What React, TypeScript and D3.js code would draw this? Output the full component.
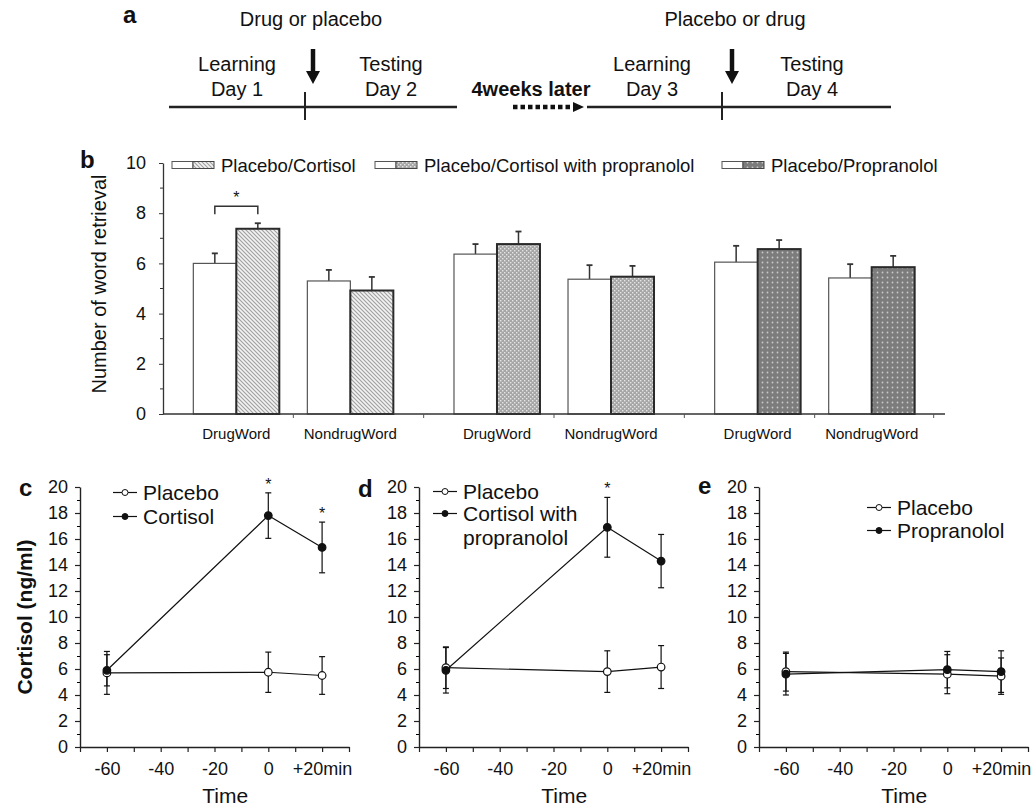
import React, { useEffect, useRef } from "react";
import * as d3 from "d3";

const FONT = "'Liberation Sans', Arial, Helvetica, sans-serif";

// panel b: word retrieval, index = cluster * 2 + word type
const clusterNames = ["Placebo/Cortisol", "Placebo/Cortisol with propranolol", "Placebo/Propranolol"];
const clusterPatterns = ["hatch", "stipple", "darkdot"];
const wordTypes = ["DrugWord", "NondrugWord"];
const placeboWords = [6.0, 5.3, 6.37, 5.37, 6.05, 5.42];
const placeboWordsErr = [0.4, 0.44, 0.4, 0.56, 0.65, 0.55];
const drugWords = [7.38, 4.92, 6.77, 5.47, 6.57, 5.85];
const drugWordsErr = [0.22, 0.54, 0.5, 0.43, 0.36, 0.45];
const yTicksB = [0, 2, 4, 6, 8, 10];
const yMinorB = [1, 3, 5, 7, 9];

// panels c-e: cortisol over time
const times = [-60, 0, 20];
const timeTicks = [-70, -60, -50, -40, -30, -20, -10, 0, 10, 20, 30];
const timeLabels: Record<number, string> = { "-60": "-60", "-40": "-40", "-20": "-20", "0": "0", "20": "+20min" };
const cortTicks = [0, 2, 4, 6, 8, 10, 12, 14, 16, 18, 20];
const cortMinor = [1, 3, 5, 7, 9, 11, 13, 15, 17, 19];

const cPlacebo = [5.7, 5.75, 5.5];
const cPlaceboErr = [1.65, 1.55, 1.45];
const cCortisol = [5.9, 17.8, 15.35];
const cCortisolErr = [1.2, 1.75, 1.95];
const dPlacebo = [6.1, 5.8, 6.15];
const dPlaceboErr = [1.6, 1.6, 1.65];
const dCortProp = [5.9, 16.9, 14.3];
const dCortPropErr = [1.75, 2.3, 2.05];
const ePlacebo = [5.8, 5.6, 5.45];
const ePlaceboErr = [1.5, 1.5, 1.4];
const eProp = [5.6, 5.95, 5.8];
const ePropErr = [1.6, 1.4, 1.6];

function txt(g: any, x: number, y: number, s: string, size: number, opts: any = {}) {
  return g.append("text")
    .attr("x", x).attr("y", y)
    .attr("font-family", FONT)
    .attr("font-size", size)
    .attr("font-weight", opts.bold ? "bold" : "normal")
    .attr("text-anchor", opts.anchor || "start")
    .attr("fill", "#111")
    .text(s);
}

function drawLinePanel(svg: any, ox: number, letter: string, letterY: number,
  open: number[], openErr: number[], filled: number[], filledErr: number[],
  legend: { lx: number; tx: number; rows: number[]; labels: string[] }, stars: number[]) {
  const g = svg.append("g");
  const x = d3.scaleLinear().domain([-70, 30]).range([ox, ox + 269]);
  const y = d3.scaleLinear().domain([0, 20]).range([747, 487]);

  const yAxis = g.append("g").attr("transform", `translate(${ox},0)`)
    .call(d3.axisLeft(y).tickValues(cortTicks).tickSize(5).tickPadding(7).tickSizeOuter(0));
  g.append("g").attr("transform", `translate(${ox},0)`)
    .call(d3.axisLeft(y).tickValues(cortMinor).tickSize(3).tickFormat(() => "").tickSizeOuter(0))
    .select(".domain").remove();
  const xAxis = g.append("g").attr("transform", "translate(0,747)")
    .call(d3.axisBottom(x).tickValues(timeTicks).tickSize(5).tickSizeOuter(0)
      .tickFormat((d: any) => timeLabels[d] || ""));
  [yAxis, xAxis].forEach((a: any) => {
    a.select(".domain").attr("stroke", "#222").attr("stroke-width", 1.4);
    a.selectAll(".tick line").attr("stroke", "#222").attr("stroke-width", 1.2);
    a.selectAll("text").attr("font-family", FONT).attr("font-size", 18).attr("fill", "#111");
  });
  xAxis.selectAll("text").attr("y", 28).attr("dy", 0);

  txt(g, x(-16), 803, "Time", 21, { anchor: "middle" });
  txt(g, ox - 61, letterY, letter, 24, { bold: true });

  const line = d3.line<number>().x((_, i) => x(times[i])).y(d => y(d));
  const series = [
    { v: open, e: openErr, fill: "#fff" },
    { v: filled, e: filledErr, fill: "#111" },
  ];
  series.forEach(s => {
    g.append("path").attr("d", line(s.v)).attr("fill", "none").attr("stroke", "#111").attr("stroke-width", 1.2);
  });
  series.forEach(s => {
    s.v.forEach((v, i) => {
      const cx = x(times[i]);
      g.append("line").attr("x1", cx).attr("x2", cx).attr("y1", y(v - s.e[i])).attr("y2", y(v + s.e[i]))
        .attr("stroke", "#111").attr("stroke-width", 1.2);
      [v - s.e[i], v + s.e[i]].forEach(w => {
        g.append("line").attr("x1", cx - 3).attr("x2", cx + 3).attr("y1", y(w)).attr("y2", y(w))
          .attr("stroke", "#111").attr("stroke-width", 1.2);
      });
    });
  });
  series.forEach(s => {
    s.v.forEach((v, i) => {
      g.append("circle").attr("cx", x(times[i])).attr("cy", y(v)).attr("r", 3.8)
        .attr("fill", s.fill).attr("stroke", "#111").attr("stroke-width", 1.2);
    });
  });
  stars.forEach(t => {
    const i = times.indexOf(t);
    txt(g, x(t), y(filled[i] + filledErr[i]) - 3, "*", 16, { anchor: "middle" });
  });

  // legend
  legend.labels.forEach((lab, i) => {
    const by = legend.rows[i];
    txt(g, legend.tx, by, lab, 21);
    if (i < 2) {
      const ly = by - 7;
      g.append("line").attr("x1", legend.lx).attr("x2", legend.lx + 24).attr("y1", ly).attr("y2", ly)
        .attr("stroke", "#111").attr("stroke-width", 1.2);
      g.append("circle").attr("cx", legend.lx + 12).attr("cy", ly).attr("r", 3)
        .attr("fill", i === 0 ? "#fff" : "#111").attr("stroke", "#111").attr("stroke-width", 1);
    }
  });
  return g;
}

export default function App() {
  const ref = useRef<SVGSVGElement>(null);

  useEffect(() => {
    const svg = d3.select(ref.current);
    svg.selectAll("*").remove();

    // patterns
    const defs = svg.append("defs");
    const hatch = defs.append("pattern").attr("id", "hatch").attr("patternUnits", "userSpaceOnUse")
      .attr("width", 4).attr("height", 4);
    hatch.append("rect").attr("width", 4).attr("height", 4).attr("fill", "#f2f2f2");
    hatch.append("path").attr("d", "M-1,-1L5,5M-1,3L1,5M3,-1L5,1").attr("stroke", "#a0a0a0").attr("stroke-width", 1.1);
    const stip = defs.append("pattern").attr("id", "stipple").attr("patternUnits", "userSpaceOnUse")
      .attr("width", 4).attr("height", 4);
    stip.append("rect").attr("width", 4).attr("height", 4).attr("fill", "#a6a6a6");
    stip.append("rect").attr("x", 0).attr("y", 0).attr("width", 1.4).attr("height", 1.4).attr("fill", "#e4e4e4");
    stip.append("rect").attr("x", 2).attr("y", 2).attr("width", 1.4).attr("height", 1.4).attr("fill", "#e4e4e4");
    const dd = defs.append("pattern").attr("id", "darkdot").attr("patternUnits", "userSpaceOnUse")
      .attr("width", 5).attr("height", 5);
    dd.append("rect").attr("width", 5).attr("height", 5).attr("fill", "#7c7c7c");
    dd.append("circle").attr("cx", 2.5).attr("cy", 2.5).attr("r", 0.9).attr("fill", "#c9c9c9");

    // ---------- panel a: design timeline
    const a = svg.append("g");
    txt(a, 123, 23, "a", 24, { bold: true });
    txt(a, 311, 26, "Drug or placebo", 20, { anchor: "middle" });
    txt(a, 735, 26, "Placebo or drug", 20, { anchor: "middle" });
    [[237, "Learning", "Day 1"], [391, "Testing", "Day 2"], [652, "Learning", "Day 3"], [812, "Testing", "Day 4"]]
      .forEach(([cx, t1, t2]: any) => {
        txt(a, cx, 71, t1, 20, { anchor: "middle" });
        txt(a, cx, 96, t2, 20, { anchor: "middle" });
      });
    [[169, 457], [587, 891]].forEach(([x1, x2]) => {
      a.append("line").attr("x1", x1).attr("x2", x2).attr("y1", 107).attr("y2", 107).attr("stroke", "#222").attr("stroke-width", 2.5);
    });
    [305, 722].forEach(x => {
      a.append("line").attr("x1", x).attr("x2", x).attr("y1", 92).attr("y2", 120).attr("stroke", "#222").attr("stroke-width", 2);
    });
    [313, 732].forEach(x => {
      a.append("line").attr("x1", x).attr("x2", x).attr("y1", 49).attr("y2", 73).attr("stroke", "#111").attr("stroke-width", 4.5);
      a.append("path").attr("d", `M${x - 7},71L${x + 7},71L${x},84Z`).attr("fill", "#111");
    });
    txt(a, 531, 96, "4weeks later", 20, { anchor: "middle", bold: true });
    a.append("line").attr("x1", 513).attr("x2", 574).attr("y1", 107).attr("y2", 107)
      .attr("stroke", "#111").attr("stroke-width", 4.5).attr("stroke-dasharray", "4.5,3");
    a.append("path").attr("d", "M573,102L584,107L573,112Z").attr("fill", "#111");

    // ---------- panel b: bars
    const b = svg.append("g");
    const yB = d3.scaleLinear().domain([0, 10]).range([414, 163]);
    const xCluster = d3.scaleBand<string>().domain(clusterNames).range([163, 945]);
    const xWord = d3.scaleBand<string>().domain(wordTypes).range([0, xCluster.step()]).paddingOuter(0.143);
    const xCond = d3.scaleBand<string>().domain(["placebo", "drug"]).range([0, xWord.step()]).paddingOuter(0.326);

    txt(b, 80, 168, "b", 24, { bold: true });

    const yAxB = b.append("g").attr("transform", "translate(163,0)")
      .call(d3.axisLeft(yB).tickValues(yTicksB).tickSize(4).tickPadding(13).tickSizeOuter(0));
    yAxB.select(".domain").attr("stroke", "#333").attr("stroke-width", 1.3);
    yAxB.selectAll(".tick line").attr("stroke", "#333");
    yAxB.selectAll("text").attr("font-family", FONT).attr("font-size", 18).attr("fill", "#111");
    b.append("g").attr("transform", "translate(163,0)")
      .selectAll("line").data(yMinorB).join("line")
      .attr("x1", -3).attr("x2", 0).attr("y1", d => yB(d)).attr("y2", d => yB(d)).attr("stroke", "#333");

    txt(b, 0, 0, "Number of word retrieval", 20, { anchor: "middle" })
      .attr("transform", "translate(106,284) rotate(-90)");

    const rows: any[] = [];
    clusterNames.forEach((c, ci) => {
      wordTypes.forEach((w, wi) => {
        const k = ci * 2 + wi;
        const gx = (xCluster(c) || 0) + (xWord(w) || 0);
        rows.push({ c, ci, w, gx, k });
      });
    });

    // group boundary ticks under the axis
    const bw = xCond.bandwidth();
    const rights = rows.map(r => r.gx + (xCond("drug") || 0) + bw);
    const lefts = rows.map(r => r.gx + (xCond("placebo") || 0));
    const bTicks = rights.slice(0, -1).map((r, i) => (r + lefts[i + 1]) / 2).concat([rights[5] + 19]);

    rows.forEach(r => {
      const xp = r.gx + (xCond("placebo") || 0);
      const xd = r.gx + (xCond("drug") || 0);
      const bars = [
        { x: xp, v: placeboWords[r.k], e: placeboWordsErr[r.k], fill: "#fff", stroke: "#555", sw: 1.2 },
        { x: xd, v: drugWords[r.k], e: drugWordsErr[r.k], fill: `url(#${clusterPatterns[r.ci]})`, stroke: "#2a2a2a", sw: 2 },
      ];
      bars.forEach(bb => {
        const cx = bb.x + bw / 2;
        b.append("line").attr("x1", cx).attr("x2", cx).attr("y1", yB(bb.v)).attr("y2", yB(bb.v + bb.e))
          .attr("stroke", "#333").attr("stroke-width", 1.5);
        b.append("line").attr("x1", cx - 3).attr("x2", cx + 3).attr("y1", yB(bb.v + bb.e)).attr("y2", yB(bb.v + bb.e))
          .attr("stroke", "#333").attr("stroke-width", 1.8);
        b.append("rect").attr("x", bb.x).attr("y", yB(bb.v)).attr("width", bw).attr("height", yB(0) - yB(bb.v))
          .attr("fill", bb.fill).attr("stroke", bb.stroke).attr("stroke-width", bb.sw);
      });
      txt(b, r.gx + xWord.bandwidth() / 2, 439, r.w, 15, { anchor: "middle" });
    });

    b.append("line").attr("x1", 163).attr("x2", 945).attr("y1", 414).attr("y2", 414)
      .attr("stroke", "#333").attr("stroke-width", 1.4);
    bTicks.forEach(t => {
      b.append("line").attr("x1", t).attr("x2", t).attr("y1", 414).attr("y2", 418).attr("stroke", "#555");
    });

    // significance bracket on first pair
    const r0 = rows[0];
    const bx1 = r0.gx + (xCond("placebo") || 0) + bw / 2;
    const bx2 = r0.gx + (xCond("drug") || 0) + bw / 2;
    const by = yB(drugWords[0] + drugWordsErr[0]) - 17;
    b.append("path").attr("d", `M${bx1},${by + 8}V${by}H${bx2}V${by + 8}`)
      .attr("fill", "none").attr("stroke", "#333").attr("stroke-width", 1.5);
    txt(b, (bx1 + bx2) / 2, by - 3, "*", 16, { anchor: "middle" });

    // legend
    const legX = [172, 375, 722];
    clusterNames.forEach((c, i) => {
      const lx = legX[i];
      b.append("rect").attr("x", lx).attr("y", 161.5).attr("width", 21).attr("height", 7)
        .attr("fill", "#fff").attr("stroke", "#555").attr("stroke-width", 1);
      b.append("rect").attr("x", lx + 21).attr("y", 161.5).attr("width", 21).attr("height", 7)
        .attr("fill", `url(#${clusterPatterns[i]})`).attr("stroke", "#444").attr("stroke-width", 1);
      txt(b, lx + 49, 172, c, 18.5);
    });

    // ---------- panels c, d, e
    drawLinePanel(svg, 80, "c", 496, cPlacebo, cPlaceboErr, cCortisol, cCortisolErr,
      { lx: 113, tx: 143, rows: [499.5, 523.5], labels: ["Placebo", "Cortisol"] }, [0, 20]);
    drawLinePanel(svg, 419, "d", 497, dPlacebo, dPlaceboErr, dCortProp, dCortPropErr,
      { lx: 433, tx: 463, rows: [498.5, 520.5, 544.5], labels: ["Placebo", "Cortisol with", "propranolol"] }, [0]);
    drawLinePanel(svg, 759, "e", 494, ePlacebo, ePlaceboErr, eProp, ePropErr,
      { lx: 867, tx: 897, rows: [514.5, 537.5], labels: ["Placebo", "Propranolol"] }, []);

    txt(svg, 0, 0, "Cortisol (ng/ml)", 21, { anchor: "middle", bold: true })
      .attr("transform", "translate(32,617) rotate(-90)");
  }, []);

  return (
    <svg ref={ref} width={1033} height={807}
      style={{ position: "absolute", left: 0, top: 0, background: "#fff" }} />
  );
}
